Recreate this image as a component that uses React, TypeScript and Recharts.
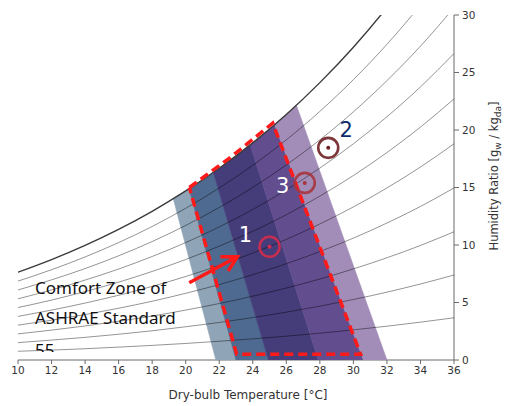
import React from 'react';
import { ComposedChart, XAxis, YAxis, Scatter } from 'recharts';

// Dry-bulb temperatures (°C) at which the relative-humidity curves were read
const temps = [10, 12, 14, 16, 18, 20, 22, 24, 26, 28, 30, 32, 34, 36];
// Humidity ratio (g/kg) of each relative-humidity curve
const rh10 = [0.76, 0.86, 0.98, 1.12, 1.27, 1.44, 1.63, 1.84, 2.07, 2.33, 2.62, 2.94, 3.29, 3.67];
const rh20 = [1.51, 1.73, 1.97, 2.24, 2.54, 2.89, 3.26, 3.69, 4.16, 4.68, 5.26, 5.9, 6.61, 7.39];
const rh30 = [2.27, 2.6, 2.96, 3.37, 3.82, 4.34, 4.91, 5.55, 6.26, 7.04, 7.92, 8.89, 9.96, 11.15];
const rh40 = [3.03, 3.46, 3.95, 4.5, 5.11, 5.8, 6.56, 7.42, 8.37, 9.43, 10.6, 11.91, 13.35, 14.96];
const rh50 = [3.79, 4.34, 4.95, 5.63, 6.4, 7.26, 8.23, 9.3, 10.49, 11.83, 13.31, 14.96, 16.78, 18.8];
const rh60 = [4.56, 5.21, 5.95, 6.77, 7.7, 8.74, 9.9, 11.19, 12.63, 14.25, 16.04, 18.04, 20.25, 22.7];
const rh70 = [5.32, 6.09, 6.95, 7.91, 9.0, 10.21, 11.57, 13.09, 14.79, 16.69, 18.8, 21.15, 23.75, 26.65];
const rh80 = [6.09, 6.97, 7.95, 9.06, 10.3, 11.7, 13.26, 15.01, 16.96, 19.14, 21.58, 24.29, 27.29, 30.64];
const rh90 = [6.86, 7.85, 8.96, 10.21, 11.61, 13.19, 14.96, 16.93, 19.14, 21.62, 24.38, 27.45, 30.87, 34.69];
const rh100 = [7.63, 8.73, 9.97, 11.36, 12.93, 14.7, 16.67, 18.88, 21.35, 24.12, 27.2, 30.65, 34.49, 38.78];

// Comfort bands (vertices: temperature °C, humidity ratio g/kg)
const bandGray = [
  { t: 21.8, w: 0 }, { t: 19.26, w: 14.03 }, { t: 20.2, w: 14.89 }, { t: 23.0, w: 0 },
];
const bandSteel = [
  { t: 23.0, w: 0 }, { t: 20.2, w: 14.89 }, { t: 21.0, w: 15.66 }, { t: 21.65, w: 16.3 }, { t: 24.93, w: 0 },
];
const bandIndigo = [
  { t: 24.93, w: 0 }, { t: 21.65, w: 16.3 }, { t: 22.7, w: 17.42 }, { t: 23.85, w: 18.71 }, { t: 27.9, w: 0 },
];
const bandPurple = [
  { t: 27.9, w: 0 }, { t: 23.85, w: 18.71 }, { t: 24.6, w: 19.6 }, { t: 25.3, w: 20.47 }, { t: 30.6, w: 0 },
];
const bandLavender = [
  { t: 30.6, w: 0 }, { t: 25.3, w: 20.47 }, { t: 26.0, w: 21.35 }, { t: 26.6, w: 22.16 }, { t: 32.0, w: 0 },
];

// ASHRAE 55 comfort zone outline
const comfortZone = [
  { t: 20.22, w: 15.0 }, { t: 22.7, w: 17.65 }, { t: 25.19, w: 20.6 },
  { t: 30.43, w: 0.5 }, { t: 23.04, w: 0.5 }, { t: 20.22, w: 15.0 },
];

// Measured states
const pointLabels = ['1', '2', '3'];
const pointT = [25.0, 28.5, 27.1];
const pointW = [9.85, 18.45, 15.4];

// Arrow pointing to the comfort zone (tail, head)
const arrowT = [20.21, 23.08];
const arrowW = [6.72, 8.98];

const xTicks = [10, 12, 14, 16, 18, 20, 22, 24, 26, 28, 30, 32, 34, 36];
const yTicks = [0, 5, 10, 15, 20, 25, 30];

const rhSeries = [rh10, rh20, rh30, rh40, rh50, rh60, rh70, rh80, rh90];
const rhData = rhSeries.map((arr) => temps.map((t, i) => ({ t, w: arr[i] })));
const satData = temps.map((t, i) => ({ t, w: rh100[i] }));
const points = pointLabels.map((label, i) => ({ label, t: pointT[i], w: pointW[i] }));
const arrowData = arrowT.map((t, i) => ({ t, w: arrowW[i] }));

const bands = [
  { data: bandGray, color: '#8fa4b6' },
  { data: bandSteel, color: '#4f6a91' },
  { data: bandIndigo, color: '#453c7a' },
  { data: bandPurple, color: '#624d8f' },
  { data: bandLavender, color: '#a18db8' },
];

const markerStyle: Record<string, { ring: string; text: string; dx: number; dy: number }> = {
  '1': { ring: '#d42c4c', text: '#ffffff', dx: -24, dy: -12 },
  '2': { ring: '#6e1f22', text: '#0d2a6b', dx: 18, dy: -18 },
  '3': { ring: '#a8343e', text: '#ffffff', dx: -22, dy: 3 },
};

const Empty = () => <g />;

const Marker = (props: any) => {
  const { cx, cy, payload } = props;
  const s = markerStyle[payload.label];
  return (
    <g>
      <circle cx={cx} cy={cy} r={10} fill="none" stroke={s.ring} strokeWidth={2.6} strokeOpacity={0.9} />
      <circle cx={cx} cy={cy} r={2} fill={s.ring} />
      <text
        x={cx + s.dx}
        y={cy + s.dy + 7.5}
        textAnchor="middle"
        fontSize={21}
        fontFamily="DejaVu Sans"
        fill={s.text}
      >
        {payload.label}
      </text>
    </g>
  );
};

const ArrowLine = (props: any) => {
  const pts = props.points || [];
  if (pts.length < 2) return <g />;
  const { x: x1, y: y1 } = pts[0];
  const { x: x2, y: y2 } = pts[pts.length - 1];
  const ang = Math.atan2(y1 - y2, x1 - x2);
  const len = 17;
  const spread = 0.5;
  const ax = x2 + len * Math.cos(ang + spread);
  const ay = y2 + len * Math.sin(ang + spread);
  const bx = x2 + len * Math.cos(ang - spread);
  const by = y2 + len * Math.sin(ang - spread);
  return (
    <g>
      <line x1={x1} y1={y1} x2={x2} y2={y2} stroke="#ff1a1a" strokeWidth={3.5} />
      <polyline
        points={`${ax},${ay} ${x2},${y2} ${bx},${by}`}
        fill="none"
        stroke="#ff1a1a"
        strokeWidth={3.5}
        strokeLinejoin="miter"
      />
    </g>
  );
};

const W = 509;
const H = 406;
const tickFont = { fill: '#333', fontSize: 10.5, fontFamily: 'DejaVu Sans' };

export default function App() {
  return (
    <div style={{ position: 'absolute', left: 0, top: 0, width: W, height: H, background: '#fff' }}>
      <ComposedChart width={W} height={H} margin={{ top: 15, right: 0, bottom: 0, left: 18 }}>
        <XAxis
          type="number"
          dataKey="t"
          domain={[10, 36]}
          ticks={xTicks}
          interval={0}
          allowDataOverflow
          height={46}
          axisLine={{ stroke: '#6a6a6a' }}
          tickLine={{ stroke: '#6a6a6a' }}
          tickSize={4}
          tickMargin={3}
          tick={tickFont}
        />
        <YAxis
          type="number"
          dataKey="w"
          orientation="right"
          domain={[0, 30]}
          ticks={yTicks}
          interval={0}
          allowDataOverflow
          width={55}
          axisLine={{ stroke: '#6a6a6a' }}
          tickLine={{ stroke: '#6a6a6a' }}
          tickSize={5}
          tickMargin={3}
          tick={{ ...tickFont, textAnchor: 'start' }}
        />
        {bands.map((b, i) => (
          <Scatter
            key={`band${i}`}
            data={b.data}
            isAnimationActive={false}
            shape={Empty}
            line={{ fill: b.color, stroke: b.color, strokeWidth: 0.6 }}
            lineType="joint"
            lineJointType="linear"
          />
        ))}
        {rhData.map((d, i) => (
          <Scatter
            key={`rh${i}`}
            data={d}
            isAnimationActive={false}
            shape={Empty}
            line={{ fill: 'none', stroke: '#000', strokeOpacity: 0.42, strokeWidth: 1 }}
            lineType="joint"
            lineJointType="monotoneX"
          />
        ))}
        <Scatter
          data={satData}
          isAnimationActive={false}
          shape={Empty}
          line={{ fill: 'none', stroke: '#3a3a3a', strokeWidth: 1.4 }}
          lineType="joint"
          lineJointType="monotoneX"
        />
        <Scatter
          data={comfortZone}
          isAnimationActive={false}
          shape={Empty}
          line={{ fill: 'none', stroke: '#ff1a1a', strokeWidth: 3.5, strokeDasharray: '9 5' }}
          lineType="joint"
          lineJointType="linear"
        />
        <Scatter data={points} isAnimationActive={false} shape={Marker} />
        <Scatter
          data={arrowData}
          isAnimationActive={false}
          shape={Empty}
          line={(p: any) => <ArrowLine {...p} />}
          lineType="joint"
        />
      </ComposedChart>
      <svg
        width={W}
        height={H}
        style={{ position: 'absolute', left: 0, top: 0, pointerEvents: 'none' }}
      >
        <defs>
          <clipPath id="cut55">
            <rect x={0} y={0} width={W} height={352} />
          </clipPath>
        </defs>
        <g fontFamily="Noto Sans" fontSize={17} fill="#111">
          <text x={35} y={293.5}>Comfort Zone of</text>
          <text x={35} y={323.5}>ASHRAE Standard</text>
          <text x={35} y={355.5} clipPath="url(#cut55)">55</text>
        </g>
        <text x={248} y={399} textAnchor="middle" fontSize={12} fontFamily="DejaVu Sans" fill="#333">
          Dry-bulb Temperature [°C]
        </text>
        <text
          x={498}
          y={176}
          textAnchor="middle"
          fontSize={11.5}
          fontFamily="DejaVu Sans"
          fill="#333"
          transform="rotate(-90 498 176)"
        >
          Humidity Ratio [g
          <tspan fontSize={9} dy={3}>w</tspan>
          <tspan dy={-3}> / kg</tspan>
          <tspan fontSize={9} dy={3}>da</tspan>
          <tspan dy={-3}>]</tspan>
        </text>
      </svg>
    </div>
  );
}
